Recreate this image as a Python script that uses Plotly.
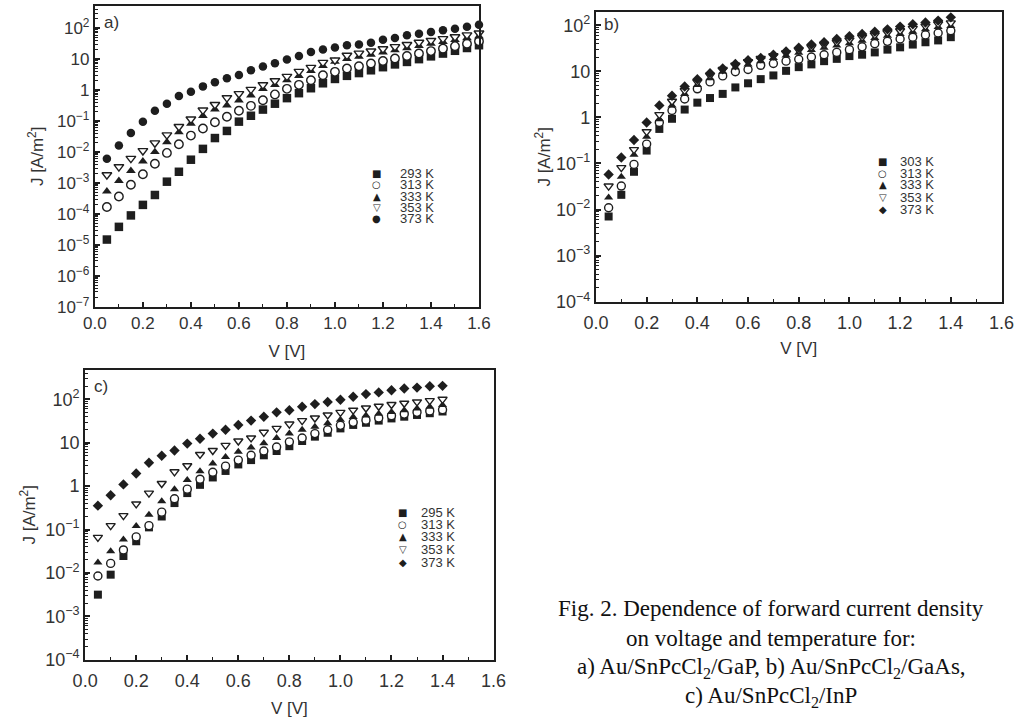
import numpy as np
import plotly.graph_objects as go

# forward bias voltage [V]
v_a = [0.05, 0.10, 0.15, 0.20, 0.25, 0.30, 0.35, 0.40, 0.45, 0.50, 0.55, 0.60, 0.65, 0.70, 0.75, 0.80,
       0.85, 0.90, 0.95, 1.00, 1.05, 1.10, 1.15, 1.20, 1.25, 1.30, 1.35, 1.40, 1.45, 1.50, 1.55, 1.60]
v_bc = [0.05, 0.10, 0.15, 0.20, 0.25, 0.30, 0.35, 0.40, 0.45, 0.50, 0.55, 0.60, 0.65, 0.70,
        0.75, 0.80, 0.85, 0.90, 0.95, 1.00, 1.05, 1.10, 1.15, 1.20, 1.25, 1.30, 1.35, 1.40]

# current density, read off the log axes as decade exponents (log10 of J in A/m^2)
# a) Au/SnPcCl2/GaP
temps_a = ["293 K", "313 K", "333 K", "353 K", "373 K"]
a_293 = [-4.83, -4.42, -4.05, -3.71, -3.39, -2.96, -2.64, -2.25, -1.90, -1.55, -1.32, -1.02, -0.83, -0.63, -0.44, -0.26,
         -0.10, 0.06, 0.22, 0.36, 0.46, 0.55, 0.64, 0.74, 0.83, 0.91, 1.00, 1.09, 1.18, 1.27, 1.36, 1.45]
a_313 = [-3.78, -3.44, -3.06, -2.72, -2.38, -2.03, -1.75, -1.47, -1.24, -1.04, -0.86, -0.67, -0.51, -0.33, -0.14, 0.04,
         0.17, 0.32, 0.48, 0.59, 0.70, 0.77, 0.86, 0.94, 1.02, 1.10, 1.18, 1.26, 1.34, 1.42, 1.50, 1.58]
a_333 = [-3.27, -2.93, -2.61, -2.30, -2.00, -1.68, -1.36, -1.08, -0.83, -0.62, -0.49, -0.33, -0.17, 0.04, 0.17, 0.32,
         0.46, 0.62, 0.78, 0.92, 1.01, 1.08, 1.15, 1.22, 1.29, 1.36, 1.43, 1.50, 1.56, 1.62, 1.68, 1.74]
a_353 = [-2.74, -2.48, -2.21, -1.96, -1.71, -1.45, -1.18, -0.94, -0.65, -0.47, -0.25, -0.12, 0.02, 0.17, 0.30, 0.44,
         0.60, 0.73, 0.89, 0.97, 1.12, 1.19, 1.26, 1.33, 1.40, 1.47, 1.54, 1.60, 1.66, 1.72, 1.78, 1.84]
a_373 = [-2.22, -1.79, -1.39, -1.02, -0.67, -0.44, -0.19, -0.05, 0.12, 0.25, 0.38, 0.49, 0.64, 0.76, 0.87, 0.99,
         1.10, 1.23, 1.31, 1.38, 1.45, 1.47, 1.53, 1.63, 1.68, 1.77, 1.82, 1.88, 1.93, 1.98, 2.05, 2.11]

# b) Au/SnPcCl2/GaAs
temps_b = ["303 K", "313 K", "333 K", "353 K", "373 K"]
b_303 = [-2.15, -1.68, -1.18, -0.72, -0.25, -0.03, 0.17, 0.32, 0.42, 0.51, 0.65, 0.74, 0.83, 0.91,
         1.01, 1.09, 1.15, 1.22, 1.27, 1.33, 1.36, 1.41, 1.47, 1.52, 1.58, 1.63, 1.67, 1.74]
b_313 = [-1.96, -1.49, -1.02, -0.58, -0.11, 0.15, 0.40, 0.62, 0.77, 0.90, 0.99, 1.04, 1.13, 1.17,
         1.22, 1.26, 1.31, 1.36, 1.41, 1.47, 1.53, 1.60, 1.65, 1.70, 1.74, 1.79, 1.83, 1.88]
b_333 = [-1.74, -1.29, -0.81, -0.42, -0.04, 0.26, 0.51, 0.70, 0.85, 0.99, 1.08, 1.15, 1.22, 1.29,
         1.34, 1.40, 1.46, 1.51, 1.56, 1.61, 1.66, 1.72, 1.77, 1.81, 1.86, 1.91, 1.96, 1.98]
b_353 = [-1.49, -1.09, -0.70, -0.31, 0.06, 0.35, 0.58, 0.77, 0.91, 1.04, 1.13, 1.21, 1.28, 1.34,
         1.40, 1.46, 1.52, 1.58, 1.63, 1.68, 1.74, 1.79, 1.84, 1.88, 1.93, 1.98, 2.03, 2.05]
b_373 = [-1.24, -0.87, -0.49, -0.11, 0.26, 0.47, 0.67, 0.83, 0.96, 1.06, 1.16, 1.24, 1.29, 1.36,
         1.43, 1.51, 1.58, 1.63, 1.70, 1.76, 1.81, 1.86, 1.91, 1.97, 2.02, 2.06, 2.10, 2.17]

# c) Au/SnPcCl2/InP
temps_c = ["295 K", "313 K", "333 K", "353 K", "373 K"]
c_295 = [-2.50, -2.04, -1.61, -1.27, -0.95, -0.70, -0.39, -0.16, 0.03, 0.20, 0.35, 0.50, 0.60, 0.71,
         0.81, 0.92, 1.04, 1.14, 1.23, 1.33, 1.41, 1.46, 1.51, 1.56, 1.60, 1.64, 1.68, 1.72]
c_313 = [-2.07, -1.78, -1.47, -1.17, -0.91, -0.60, -0.29, -0.07, 0.16, 0.32, 0.46, 0.60, 0.71, 0.81,
         0.90, 1.02, 1.11, 1.21, 1.30, 1.40, 1.47, 1.52, 1.57, 1.62, 1.66, 1.70, 1.73, 1.76]
c_333 = [-1.76, -1.50, -1.23, -0.92, -0.66, -0.35, -0.07, 0.14, 0.34, 0.52, 0.67, 0.79, 0.89, 0.99,
         1.11, 1.21, 1.30, 1.37, 1.45, 1.53, 1.59, 1.63, 1.67, 1.71, 1.75, 1.79, 1.83, 1.87]
c_353 = [-1.18, -0.91, -0.68, -0.41, -0.16, 0.06, 0.33, 0.47, 0.73, 0.82, 0.94, 1.04, 1.11, 1.24,
         1.33, 1.43, 1.51, 1.57, 1.64, 1.70, 1.75, 1.80, 1.84, 1.88, 1.91, 1.94, 1.97, 2.00]
c_373 = [-0.45, -0.21, 0.04, 0.29, 0.54, 0.70, 0.82, 0.98, 1.09, 1.21, 1.30, 1.41, 1.51, 1.60,
         1.70, 1.75, 1.83, 1.89, 1.94, 1.99, 2.06, 2.12, 2.16, 2.21, 2.25, 2.27, 2.30, 2.31]

# y tick labels
ytick_vals_a = [1e-7, 1e-6, 1e-5, 1e-4, 1e-3, 1e-2, 1e-1, 1, 10, 100]
ytick_text_a = ["10<sup>−7</sup>", "10<sup>−6</sup>", "10<sup>−5</sup>", "10<sup>−4</sup>", "10<sup>−3</sup>",
                "10<sup>−2</sup>", "10<sup>−1</sup>", "1", "10", "10<sup>2</sup>"]
ytick_vals_bc = [1e-4, 1e-3, 1e-2, 1e-1, 1, 10, 100]
ytick_text_bc = ["10<sup>−4</sup>", "10<sup>−3</sup>", "10<sup>−2</sup>", "10<sup>−1</sup>", "1", "10", "10<sup>2</sup>"]

caption = ["Fig. 2. Dependence of forward current density",
           "on voltage and temperature for:",
           "a) Au/SnPcCl<sub>2</sub>/GaP, b) Au/SnPcCl<sub>2</sub>/GaAs,",
           "c) Au/SnPcCl<sub>2</sub>/InP"]

W, H = 1034, 723
SANS = "Liberation Sans, Arial, sans-serif"
SERIF = "Liberation Serif, Times New Roman, serif"
INK = "#1e1e1e"
TXT = "#333333"


def px(x, y):
    return x / W, 1 - y / H


# marker style per series: (symbol, fill); the hottest series differs between panels
style_a = [("square", INK), ("circle", "white"), ("triangle-up", INK), ("triangle-down", "white"), ("circle", INK)]
style_bc = [("square", INK), ("circle", "white"), ("triangle-up", INK), ("triangle-down", "white"), ("diamond", INK)]
glyph_a = ["■", "○", "▲", "▽", "●"]
glyph_bc = ["■", "○", "▲", "▽", "◆"]

fig = go.Figure()

panels = [
    ("x", "y", v_a, [a_293, a_313, a_333, a_353, a_373], temps_a, style_a, 8.5),
    ("x2", "y2", v_bc, [b_303, b_313, b_333, b_353, b_373], temps_b, style_bc, 8),
    ("x3", "y3", v_bc, [c_295, c_313, c_333, c_353, c_373], temps_c, style_bc, 8),
]
for xa, ya, vv, series, names, styles, msize in panels:
    for logj, name, (sym, fill) in zip(series, names, styles):
        fig.add_trace(go.Scatter(
            x=vv, y=np.power(10.0, logj), name=name, mode="markers",
            xaxis=xa, yaxis=ya, cliponaxis=False,
            marker=dict(symbol=sym, size=msize, color=fill,
                        line=dict(color=INK, width=1.4 if fill == "white" else 0)),
        ))


def xaxis(domain, anchor, title_gap, label_gap, fsize):
    return dict(domain=domain, anchor=anchor, range=[0, 1.6], tick0=0, dtick=0.2, tickformat=".1f",
                ticks="inside", ticklen=5, tickwidth=1.5, tickcolor=INK,
                minor=dict(dtick=0.1, ticks="inside", ticklen=3, tickwidth=1.2, tickcolor=INK),
                showline=True, linewidth=2, linecolor=INK, mirror=True,
                showgrid=False, zeroline=False, ticklabelstandoff=label_gap,
                tickfont=dict(family=SANS, size=fsize, color=TXT),
                title=dict(text="V [V]", standoff=title_gap, font=dict(family=SANS, size=17, color=TXT)))


def yaxis(domain, anchor, rng, vals, text, lo, title_gap, fsize):
    minor_vals = [m * 10.0 ** e for e in range(lo, 3) for m in range(2, 10)]
    return dict(domain=domain, anchor=anchor, type="log", range=rng,
                tickmode="array", tickvals=vals, ticktext=text,
                ticks="inside", ticklen=5, tickwidth=1.5, tickcolor=INK,
                minor=dict(tickmode="array", tickvals=minor_vals, ticks="inside", ticklen=3,
                           tickwidth=1, tickcolor=INK),
                showline=True, linewidth=2, linecolor=INK, mirror=True,
                showgrid=False, zeroline=False,
                tickfont=dict(family=SANS, size=fsize, color=TXT),
                title=dict(text="J [A/m<sup>2</sup>]", standoff=title_gap,
                           font=dict(family=SANS, size=17, color=TXT)))


fig.update_layout(
    width=W, height=H, margin=dict(l=0, r=0, t=0, b=0),
    paper_bgcolor="white", plot_bgcolor="white", showlegend=False,
    xaxis=xaxis([84 / W, 478 / W], "y", 13, 0, 17),
    yaxis=yaxis([1 - 311 / H, 1 - 6 / H], "x", [-7, 2.72], ytick_vals_a, ytick_text_a, -7, 9, 17),
    xaxis2=xaxis([598 / W, 1014 / W], "y2", 10, 4, 18),
    yaxis2=yaxis([1 - 306 / H, 1 - 12 / H], "x2", [-4, 2.29], ytick_vals_bc, ytick_text_bc, -4, 1, 18),
    xaxis3=xaxis([74 / W, 493 / W], "y3", 12, 4, 18),
    yaxis3=yaxis([1 - 669 / H, 1 - 375 / H], "x3", [-4, 2.68], ytick_vals_bc, ytick_text_bc, -4, 5, 18),
)

annotations = []
# panel letters
for label, (lx, ly) in zip(["a)", "b)", "c)"], [(91, 23), (604, 25), (81, 392)]):
    x, y = px(lx, ly)
    annotations.append(dict(x=x, y=y, xref="paper", yref="paper", text=label, showarrow=False,
                            xanchor="left", yanchor="middle", font=dict(family=SANS, size=17, color=TXT)))

# in-plot legends
legends = [
    (temps_a, glyph_a, 373, 395, [176, 187.5, 199, 210, 221.5]),
    (temps_b, glyph_bc, 892, 908, [164, 175.5, 187.5, 200, 212.5]),
    (temps_c, glyph_bc, 400, 416, [520, 532, 544.5, 557, 570]),
]
for names, glyphs, mx, tx, rows in legends:
    for name, g, ry in zip(names, glyphs, rows):
        x, y = px(mx, ry)
        annotations.append(dict(x=x, y=y, xref="paper", yref="paper", text=g, showarrow=False,
                                xanchor="center", yanchor="middle",
                                font=dict(family="DejaVu Sans", size=10, color=INK)))
        x, y = px(tx, ry)
        annotations.append(dict(x=x, y=y, xref="paper", yref="paper", text=name, showarrow=False,
                                xanchor="left", yanchor="middle",
                                font=dict(family=SANS, size=13, color=TXT)))

# figure caption
for line, cy in zip(caption, [617, 647, 677, 707]):
    x, y = px(778, cy)
    annotations.append(dict(x=x, y=y, xref="paper", yref="paper", text=line, showarrow=False,
                            xanchor="center", yanchor="middle",
                            font=dict(family=SERIF, size=23, color="#111111")))

fig.update_layout(annotations=annotations)

fig.write_html("out.html", config={"displayModeBar": False},
               post_script="document.body.style.margin='0';")
